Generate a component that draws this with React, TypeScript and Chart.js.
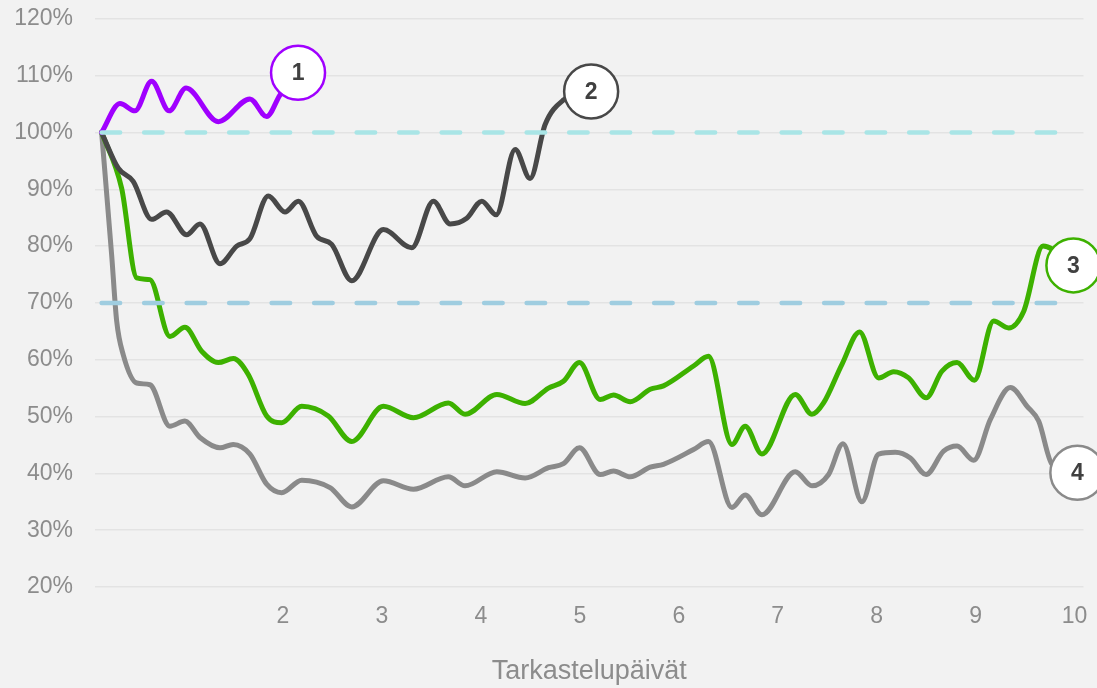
import React, { useEffect, useRef } from "react";
import { Chart, registerables } from "chart.js";

Chart.register(...registerables);

// ---- Data (x = tarkastelupäivä, y = %) ----
const xTicks = [2, 3, 4, 5, 6, 7, 8, 9, 10];
const yTicks = [20, 30, 40, 50, 60, 70, 80, 90, 100, 110, 120];
const markerLabels = ["1", "2", "3", "4"];
const xTitle = "Tarkastelupäivät";

const days1 = [0.167, 0.352, 0.504, 0.672, 0.85, 1.02, 1.346, 1.666, 1.835, 1.97, 2.152];
const vals1 = [100, 105.1, 103.8, 109, 103.8, 107.8, 101.9, 105.9, 102.8, 106.6, 110.5];

const days2 = [0.167, 0.335, 0.486, 0.672, 0.824, 1.026, 1.161, 1.363, 1.532, 1.666, 1.851, 2.02, 2.155, 2.341, 2.492, 2.695, 3.014, 3.301, 3.52, 3.689, 3.857, 4.009, 4.154, 4.346, 4.497, 4.649, 4.834, 5.114];
const vals2 = [100, 93.7, 91.4, 84.7, 86, 82, 83.9, 76.9, 80, 81.3, 88.8, 86, 87.9, 81.7, 80.3, 73.9, 82.9, 79.7, 87.9, 83.9, 84.9, 87.9, 85.5, 97, 91.9, 101.4, 105.7, 107.2];

const days3 = [0.167, 0.369, 0.521, 0.655, 0.857, 1.009, 1.178, 1.346, 1.497, 1.649, 1.835, 1.987, 2.189, 2.458, 2.695, 3.014, 3.318, 3.671, 3.84, 4.161, 4.447, 4.683, 4.834, 4.996, 5.205, 5.34, 5.509, 5.711, 5.845, 6.149, 6.3, 6.537, 6.671, 6.84, 7.177, 7.346, 7.463, 7.649, 7.827, 8.019, 8.171, 8.323, 8.499, 8.66, 8.812, 8.987, 9.182, 9.334, 9.485, 9.681, 9.988];
const vals3 = [100, 90.2, 74.4, 74.1, 64.1, 65.7, 61.5, 59.5, 60.2, 57.4, 50.1, 48.9, 51.8, 50.1, 45.6, 51.8, 49.8, 52.4, 50.4, 53.9, 52.3, 55, 56.2, 59.5, 53, 53.8, 52.6, 54.8, 55.4, 58.9, 60.6, 45.1, 48.3, 43.4, 53.9, 50.4, 52.4, 59.2, 64.9, 56.8, 57.9, 56.8, 53.3, 58, 59.5, 56.4, 66.8, 65.6, 68.5, 80, 76.6];

const days4 = [0.167, 0.268, 0.319, 0.385, 0.521, 0.655, 0.857, 1.009, 1.161, 1.363, 1.497, 1.666, 1.835, 1.987, 2.189, 2.475, 2.695, 3.014, 3.318, 3.671, 3.84, 4.161, 4.447, 4.683, 4.834, 4.996, 5.205, 5.34, 5.509, 5.711, 5.845, 6.149, 6.3, 6.537, 6.671, 6.84, 7.177, 7.346, 7.514, 7.659, 7.851, 8.019, 8.188, 8.34, 8.499, 8.676, 8.812, 8.98, 9.149, 9.351, 9.52, 9.637, 9.772, 10.028];
const vals4 = [100, 78.5, 66.8, 60.9, 55.9, 55.6, 48.3, 49.2, 46.3, 44.5, 45.1, 43.4, 38.1, 36.6, 38.8, 37.5, 34.1, 38.7, 37.2, 39.4, 37.8, 40.3, 39.2, 41, 41.7, 44.5, 39.8, 40.4, 39.4, 41.1, 41.6, 44.2, 45.6, 34, 36.2, 32.7, 40.3, 37.8, 39.8, 45.2, 35, 43.4, 43.7, 42.7, 39.8, 43.9, 44.8, 42.3, 49.5, 55.1, 51.8, 49.2, 41.6, 40.1];

const refLevels = [100, 70];
const refDays = [0.167, 9.85];

const lineColors = ["#a000ff", "#484848", "#3db100", "#8a8a8a"];
const refColors = ["#a9e5e6", "#9fcde0"];

const FONT = "'Liberation Sans', Arial, Helvetica, sans-serif";

const toPoints = (xs: number[], ys: number[]) => xs.map((x, i) => ({ x, y: ys[i] }));

export default function App() {
  const canvasRef = useRef<HTMLCanvasElement | null>(null);

  useEffect(() => {
    document.body.style.margin = "0";
    document.body.style.background = "#f2f2f2";
    document.body.style.overflow = "hidden";
    const canvas = canvasRef.current;
    if (!canvas) return;

    const series = [
      toPoints(days1, vals1),
      toPoints(days2, vals2),
      toPoints(days3, vals3),
      toPoints(days4, vals4),
    ];

    const lineSets = series.map((data, i) => ({
      label: markerLabels[i],
      data,
      borderColor: lineColors[i],
      borderWidth: 5,
      cubicInterpolationMode: "monotone" as const,
      fill: false,
      clip: false as any,
      order: 1,
      pointRadius: (ctx: any) => (ctx.dataIndex === data.length - 1 ? 27 : 0),
      pointHoverRadius: (ctx: any) => (ctx.dataIndex === data.length - 1 ? 27 : 0),
      pointBackgroundColor: "#ffffff",
      pointBorderColor: lineColors[i],
      pointBorderWidth: 2.5,
      borderCapStyle: "round" as const,
      borderJoinStyle: "round" as const,
    }));

    const refSets = refLevels.map((lvl, i) => ({
      label: "ref" + lvl,
      data: refDays.map((x) => ({ x, y: lvl })),
      borderColor: refColors[i],
      borderWidth: 4.5,
      borderDash: [18.5, 24],
      borderCapStyle: "round" as const,
      pointRadius: 0,
      fill: false,
      order: 0,
    }));

    const markerPlugin = {
      id: "markerText",
      afterDatasetsDraw(chart: any) {
        const ctx = chart.ctx;
        ctx.save();
        ctx.font = `bold 23px ${FONT}`;
        ctx.fillStyle = "#404040";
        ctx.textAlign = "center";
        ctx.textBaseline = "middle";
        lineSets.forEach((ds, i) => {
          const meta = chart.getDatasetMeta(i);
          const el = meta.data[meta.data.length - 1];
          if (el) ctx.fillText(markerLabels[i], el.x, el.y + 1);
        });
        ctx.restore();
      },
    };

    const chart = new Chart(canvas, {
      type: "line",
      data: { datasets: [...lineSets, ...refSets] as any },
      options: {
        animation: false,
        responsive: true,
        maintainAspectRatio: false,
        layout: { padding: 0 },
        plugins: { legend: { display: false }, tooltip: { enabled: false } },
        events: [],
        scales: {
          x: {
            type: "linear",
            min: 0.1,
            max: 10.09,
            afterBuildTicks: (scale: any) => {
              scale.ticks = xTicks.map((v) => ({ value: v }));
            },
            afterFit: (scale: any) => {
              scale.height = 101;
            },
            grid: { display: false, drawTicks: false },
            border: { display: false },
            ticks: {
              color: "#8c8c8c",
              font: { family: FONT, size: 23 },
              padding: 16,
              maxRotation: 0,
              autoSkip: false,
              callback: (v: any) => String(v),
            },
            title: {
              display: true,
              text: xTitle,
              color: "#8c8c8c",
              font: { family: FONT, size: 27 },
              padding: { top: 0, bottom: 0 },
            },
          },
          y: {
            type: "linear",
            min: 20,
            max: 120,
            afterBuildTicks: (scale: any) => {
              scale.ticks = yTicks.map((v) => ({ value: v }));
            },
            afterFit: (scale: any) => {
              scale.width = 95;
            },
            grid: { color: "#e3e3e3", lineWidth: 1.5, drawTicks: false },
            border: { display: false },
            ticks: {
              color: "#8c8c8c",
              font: { family: FONT, size: 23 },
              padding: 22,
              callback: (v: any) => v + "%",
            },
          },
        },
      },
      plugins: [markerPlugin],
    });

    return () => chart.destroy();
  }, []);

  return (
    <div style={{ width: 1097, height: 688, background: "#f2f2f2", position: "relative", overflow: "hidden" }}>
      <div style={{ position: "absolute", left: 0, top: -17, width: 1113, height: 705 }}>
        <canvas ref={canvasRef} />
      </div>
    </div>
  );
}
